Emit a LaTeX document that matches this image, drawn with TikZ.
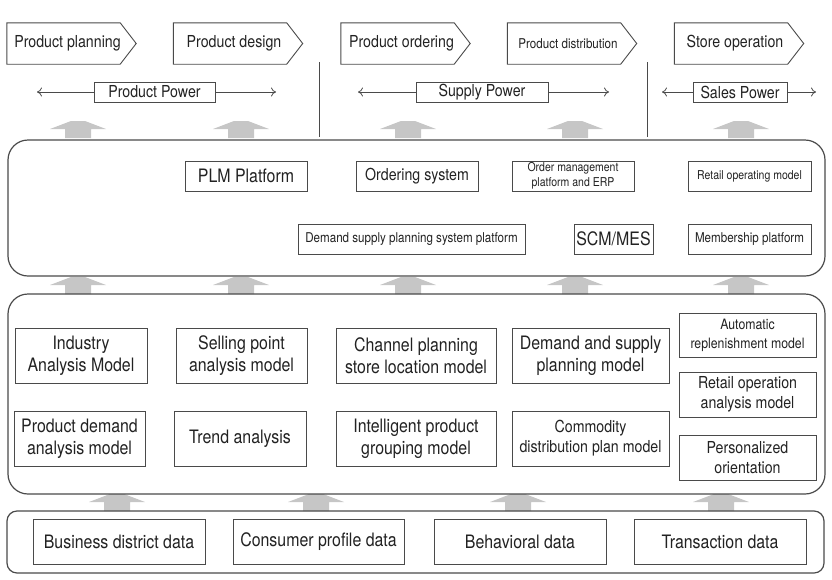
\documentclass[tikz,border=0pt]{standalone}
\usepackage{fontspec}
\setmainfont{TeX Gyre Heros}[FakeStretch=0.86]
\usepackage{tikz}
\usetikzlibrary{arrows.meta}

\definecolor{linea}{HTML}{4A4A4A}
\definecolor{texto}{HTML}{222222}
\definecolor{gris}{HTML}{C6C6C6}

\newcommand{\fgrande}{\fontsize{18.5}{22}\selectfont}
\newcommand{\fmedio}{\fontsize{16.5}{20}\selectfont}
\newcommand{\fchico}{\fontsize{14.3}{19}\selectfont}
\newcommand{\fpeq}{\fontsize{13.5}{16}\selectfont}
\newcommand{\fmini}{\fontsize{12.2}{14.5}\selectfont}

\begin{document}
\begin{tikzpicture}[x=1pt,y=-1pt,
  caja/.style={draw=linea, line width=0.9pt, text=texto, align=center, inner sep=1pt},
  etapa/.style={text=texto, minimum width=113, minimum height=41, inner sep=0pt, font=\fmedio},
  poder/.style={caja, minimum height=20, font=\fmedio},
  borde/.style={draw=linea, line width=0.9pt},
  panel/.style={draw=linea, line width=1.2pt},
  flecha/.style={draw=linea, line width=0.8pt, -{To[length=5pt,width=9pt]}},
  flechagris/.pic={\fill[gris] (-13,0) -- (-13,-9) -- (-28,-9) -- (-7,-17) -- (7,-17) -- (28,-9) -- (13,-9) -- (13,0) -- cycle;}]
\useasboundingbox (0,0) rectangle (832,579);

% Etapas del proceso
\node[etapa] (plan) at (67.5,43.5) {Product planning};
\node[etapa] (design) at (234,43.5) {Product design};
\node[etapa] (order) at (401.5,43.5) {Product ordering};
\node[etapa, font=\fpeq] (distrib) at (568,43.5) {Product distribution};
\node[etapa] (store) at (735,43.5) {Store operation};
\foreach \n in {plan,design,order,distrib,store}
  \draw[borde] ([xshift=-4pt]\n.north west) -- ([xshift=-4pt]\n.north east) -- ([xshift=12pt]\n.east)
    -- ([xshift=-4pt]\n.south east) -- ([xshift=-4pt]\n.south west) -- cycle;

% Separadores
\draw[borde] (319,62) -- (319,137);
\draw[borde] (647,62) -- (647,137);

% Poderes con flechas a ambos lados
\node[poder, minimum width=121] (pprod) at (154.5,92) {Product Power};
\node[poder, minimum width=132] (psupply) at (482,92) {Supply Power};
\node[poder, minimum width=94] (psales) at (740,92) {Sales Power};
\coordinate (pprodL) at (37,92);   \coordinate (pprodR) at (276,92);
\coordinate (psupplyL) at (358,92); \coordinate (psupplyR) at (609,92);
\coordinate (psalesL) at (662,92);  \coordinate (psalesR) at (816,92);
\foreach \n in {pprod,psupply,psales} {
  \draw[flecha] (\n) -- (\n L);
  \draw[flecha] (\n) -- (\n R);
}

% Flechas grises entre capas
\foreach \x in {78,241,408,575,741} {
  \pic at (\x,138) {flechagris};
  \pic at (\x,294) {flechagris};
}
\foreach \x in {117,316,518,721}
  \pic at (\x,511) {flechagris};

% Capas (paneles redondeados)
\draw[panel, rounded corners=20] (8,140) rectangle (825,276);
\draw[panel, rounded corners=20] (8,294) rectangle (825,494);
\draw[panel, rounded corners=10] (7,511) rectangle (824,573);

% Plataformas
\node[caja, minimum width=122, minimum height=30, font=\fgrande] (plm) at (246,176) {PLM Platform};
\node[caja, minimum width=122, minimum height=30, font=\fmedio] (ordsys) at (417,176) {Ordering system};
\node[caja, minimum width=122, minimum height=30, font=\fmini] (ordmgmt) at (573,176) {Order management\\platform and ERP};
\node[caja, minimum width=123, minimum height=30, font=\fmini] (retail) at (749.5,176) {Retail operating model};
\node[caja, minimum width=227, minimum height=30, font=\fpeq] (dsplan) at (411.5,239) {Demand supply planning system platform};
\node[caja, minimum width=79, minimum height=30, font=\fgrande] (scm) at (613.5,239) {SCM/MES};
\node[caja, minimum width=123, minimum height=30, font=\fpeq] (member) at (749.5,239) {Membership platform};

% Modelos
\node[caja, minimum width=132, minimum height=55, font=\fgrande] (industry) at (81,355.5) {Industry\\Analysis Model};
\node[caja, minimum width=131, minimum height=55, font=\fgrande] (selling) at (241.5,355.5) {Selling point\\analysis model};
\node[caja, minimum width=160, minimum height=55, font=\fgrande] (channel) at (416,355.5) {Channel planning\\store location model};
\node[caja, minimum width=157, minimum height=55, font=\fgrande] (dsmodel) at (590.5,355.5) {Demand and supply\\planning model};
\node[caja, minimum width=131, minimum height=55, font=\fgrande] (proddem) at (79.5,438.5) {Product demand\\analysis model};
\node[caja, minimum width=132, minimum height=55, font=\fgrande] (trend) at (240,438.5) {Trend analysis};
\node[caja, minimum width=160, minimum height=55, font=\fgrande] (intell) at (416,438.5) {Intelligent product\\grouping model};
\node[caja, minimum width=157, minimum height=55, font=\fmedio] (commod) at (590.5,438.5) {Commodity\\distribution plan model};
\node[caja, minimum width=137, minimum height=44, font=\fchico] (autorep) at (747.5,335) {Automatic\\replenishment model};
\node[caja, minimum width=137, minimum height=45, font=\fmedio] (retailop) at (747.5,394.5) {Retail operation\\analysis model};
\node[caja, minimum width=137, minimum height=45, font=\fmedio] (personal) at (747.5,457.5) {Personalized\\orientation};

% Datos
\node[caja, minimum width=172, minimum height=45, font=\fgrande] (bdd) at (119,541.5) {Business district data};
\node[caja, minimum width=171, minimum height=45, font=\fgrande] (cpd) at (318.5,541.5) {Consumer profile data};
\node[caja, minimum width=172, minimum height=45, font=\fgrande] (beh) at (520,541.5) {Behavioral data};
\node[caja, minimum width=172, minimum height=45, font=\fgrande] (trans) at (720,541.5) {Transaction data};
\end{tikzpicture}
\end{document}
